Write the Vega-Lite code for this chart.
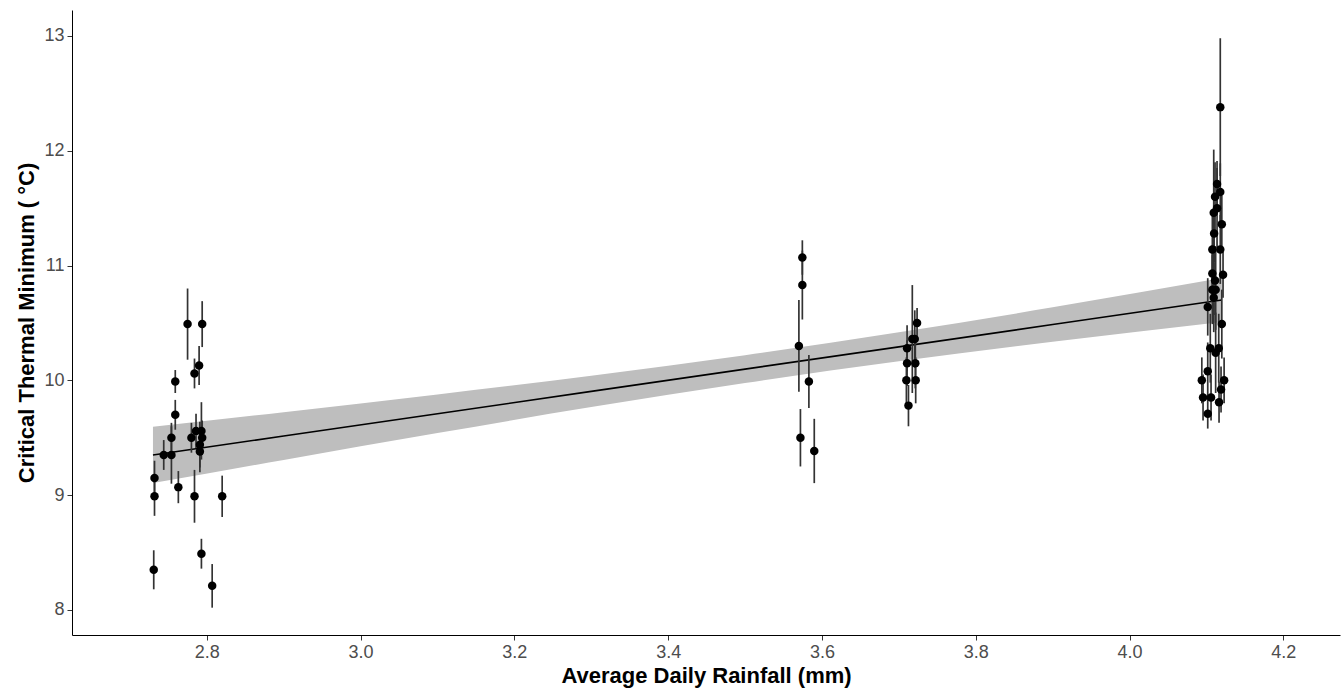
{
  "$schema": "https://vega.github.io/schema/vega-lite/v6.json",
  "width": 1268,
  "height": 625,
  "autosize": {"type": "none"},
  "padding": {"left": 72, "top": 10, "right": 3, "bottom": 55},
  "background": "white",
  "datasets": {
    "points": [
      {"rain": 2.731, "ctmin": 8.35, "lo": 8.18, "hi": 8.52},
      {"rain": 2.732, "ctmin": 8.99, "lo": 8.82, "hi": 9.16},
      {"rain": 2.732, "ctmin": 9.15, "lo": 9.0, "hi": 9.3},
      {"rain": 2.744, "ctmin": 9.35, "lo": 9.22, "hi": 9.48},
      {"rain": 2.754, "ctmin": 9.35, "lo": 9.1, "hi": 9.6},
      {"rain": 2.754, "ctmin": 9.5, "lo": 9.37, "hi": 9.63},
      {"rain": 2.759, "ctmin": 9.7, "lo": 9.57, "hi": 9.83},
      {"rain": 2.759, "ctmin": 9.99, "lo": 9.89, "hi": 10.09},
      {"rain": 2.763, "ctmin": 9.07, "lo": 8.93, "hi": 9.21},
      {"rain": 2.775, "ctmin": 10.49, "lo": 10.18, "hi": 10.8},
      {"rain": 2.78, "ctmin": 9.5, "lo": 9.37, "hi": 9.63},
      {"rain": 2.784, "ctmin": 10.06, "lo": 9.93, "hi": 10.19},
      {"rain": 2.784, "ctmin": 8.99, "lo": 8.76, "hi": 9.22},
      {"rain": 2.786, "ctmin": 9.56, "lo": 9.41, "hi": 9.71},
      {"rain": 2.79, "ctmin": 10.13, "lo": 9.96, "hi": 10.3},
      {"rain": 2.793, "ctmin": 9.56, "lo": 9.31, "hi": 9.81},
      {"rain": 2.794, "ctmin": 10.49, "lo": 10.29, "hi": 10.69},
      {"rain": 2.794, "ctmin": 9.5, "lo": 9.35, "hi": 9.65},
      {"rain": 2.791, "ctmin": 9.44, "lo": 9.24, "hi": 9.64},
      {"rain": 2.791, "ctmin": 9.38, "lo": 9.2, "hi": 9.56},
      {"rain": 2.793, "ctmin": 8.49, "lo": 8.36, "hi": 8.62},
      {"rain": 2.807, "ctmin": 8.21, "lo": 8.02, "hi": 8.4},
      {"rain": 2.82, "ctmin": 8.99, "lo": 8.81, "hi": 9.17},
      {"rain": 3.5745, "ctmin": 11.07, "lo": 10.92, "hi": 11.22},
      {"rain": 3.5745, "ctmin": 10.83, "lo": 10.53, "hi": 11.13},
      {"rain": 3.57, "ctmin": 10.3, "lo": 9.9, "hi": 10.7},
      {"rain": 3.583, "ctmin": 9.99, "lo": 9.76, "hi": 10.22},
      {"rain": 3.572, "ctmin": 9.5, "lo": 9.25, "hi": 9.75},
      {"rain": 3.59, "ctmin": 9.385, "lo": 9.105, "hi": 9.665},
      {"rain": 3.7237, "ctmin": 10.5, "lo": 10.37, "hi": 10.63},
      {"rain": 3.7175, "ctmin": 10.36, "lo": 9.89, "hi": 10.83},
      {"rain": 3.7207, "ctmin": 10.36, "lo": 10.11, "hi": 10.61},
      {"rain": 3.7107, "ctmin": 10.28, "lo": 10.08, "hi": 10.48},
      {"rain": 3.7107, "ctmin": 10.15, "lo": 9.95, "hi": 10.35},
      {"rain": 3.7214, "ctmin": 10.15, "lo": 9.93, "hi": 10.37},
      {"rain": 3.7098, "ctmin": 10.0, "lo": 9.8, "hi": 10.2},
      {"rain": 3.7219, "ctmin": 10.0, "lo": 9.8, "hi": 10.2},
      {"rain": 3.7125, "ctmin": 9.78, "lo": 9.6, "hi": 9.96},
      {"rain": 4.118, "ctmin": 12.38, "lo": 11.78, "hi": 12.98},
      {"rain": 4.1138, "ctmin": 11.71, "lo": 11.51, "hi": 11.91},
      {"rain": 4.118, "ctmin": 11.64, "lo": 11.39, "hi": 11.89},
      {"rain": 4.1112, "ctmin": 11.6, "lo": 11.3, "hi": 11.9},
      {"rain": 4.1138, "ctmin": 11.5, "lo": 11.15, "hi": 11.85},
      {"rain": 4.1095, "ctmin": 11.46, "lo": 10.91, "hi": 12.01},
      {"rain": 4.12, "ctmin": 11.36, "lo": 11.11, "hi": 11.61},
      {"rain": 4.11, "ctmin": 11.28, "lo": 11.03, "hi": 11.53},
      {"rain": 4.1077, "ctmin": 11.14, "lo": 10.84, "hi": 11.44},
      {"rain": 4.118, "ctmin": 11.14, "lo": 10.84, "hi": 11.44},
      {"rain": 4.1077, "ctmin": 10.93, "lo": 10.68, "hi": 11.18},
      {"rain": 4.1216, "ctmin": 10.92, "lo": 10.72, "hi": 11.12},
      {"rain": 4.1112, "ctmin": 10.87, "lo": 10.57, "hi": 11.17},
      {"rain": 4.1077, "ctmin": 10.79, "lo": 10.49, "hi": 11.09},
      {"rain": 4.112, "ctmin": 10.79, "lo": 10.44, "hi": 11.14},
      {"rain": 4.1095, "ctmin": 10.72, "lo": 10.42, "hi": 11.02},
      {"rain": 4.1017, "ctmin": 10.64, "lo": 10.39, "hi": 10.89},
      {"rain": 4.12, "ctmin": 10.49, "lo": 10.19, "hi": 10.79},
      {"rain": 4.105, "ctmin": 10.28, "lo": 9.98, "hi": 10.58},
      {"rain": 4.116, "ctmin": 10.28, "lo": 9.98, "hi": 10.58},
      {"rain": 4.112, "ctmin": 10.24, "lo": 9.89, "hi": 10.59},
      {"rain": 4.1017, "ctmin": 10.08, "lo": 9.83, "hi": 10.33},
      {"rain": 4.094, "ctmin": 10.0, "lo": 9.8, "hi": 10.2},
      {"rain": 4.123, "ctmin": 10.0, "lo": 9.8, "hi": 10.2},
      {"rain": 4.119, "ctmin": 9.92, "lo": 9.72, "hi": 10.12},
      {"rain": 4.0956, "ctmin": 9.85, "lo": 9.65, "hi": 10.05},
      {"rain": 4.106, "ctmin": 9.85, "lo": 9.65, "hi": 10.05},
      {"rain": 4.1164, "ctmin": 9.81, "lo": 9.63, "hi": 9.99},
      {"rain": 4.1017, "ctmin": 9.71, "lo": 9.58, "hi": 9.84}
    ],
    "band": [
      {"rain": 2.73, "fit": 9.35, "lo": 9.105, "hi": 9.595},
      {"rain": 2.9, "fit": 9.515, "lo": 9.307, "hi": 9.723},
      {"rain": 3.1, "fit": 9.709, "lo": 9.541, "hi": 9.877},
      {"rain": 3.3, "fit": 9.904, "lo": 9.767, "hi": 10.04},
      {"rain": 3.5, "fit": 10.098, "lo": 9.977, "hi": 10.219},
      {"rain": 3.7, "fit": 10.292, "lo": 10.166, "hi": 10.418},
      {"rain": 3.9, "fit": 10.486, "lo": 10.336, "hi": 10.636},
      {"rain": 4.12, "fit": 10.7, "lo": 10.509, "hi": 10.891}
    ]
  },
  "layer": [
    {
      "data": {"name": "band"},
      "mark": {"type": "area", "color": "#BEBEBE", "opacity": 1, "interpolate": "monotone"},
      "encoding": {
        "x": {"field": "rain", "type": "quantitative"},
        "y": {"field": "lo", "type": "quantitative"},
        "y2": {"field": "hi"}
      }
    },
    {
      "data": {"name": "band"},
      "mark": {"type": "line", "color": "#000000", "strokeWidth": 1.6},
      "encoding": {
        "x": {"field": "rain", "type": "quantitative"},
        "y": {"field": "fit", "type": "quantitative"}
      }
    },
    {
      "data": {"name": "points"},
      "mark": {"type": "rule", "color": "#333333", "strokeWidth": 1.7},
      "encoding": {
        "x": {"field": "rain", "type": "quantitative"},
        "y": {"field": "lo", "type": "quantitative"},
        "y2": {"field": "hi"}
      }
    },
    {
      "data": {"name": "points"},
      "mark": {"type": "circle", "color": "#000000", "opacity": 1, "size": 72},
      "encoding": {
        "x": {
          "field": "rain", "type": "quantitative",
          "scale": {"domain": [2.6247, 4.2737], "nice": false, "zero": false},
          "axis": {"title": "Average Daily Rainfall (mm)", "values": [2.8, 3.0, 3.2, 3.4, 3.6, 3.8, 4.0, 4.2], "format": ".1f", "titlePadding": 4}
        },
        "y": {
          "field": "ctmin", "type": "quantitative",
          "scale": {"domain": [7.782, 13.226], "nice": false, "zero": false},
          "axis": {"title": "Critical Thermal Minimum ( °C)", "values": [8, 9, 10, 11, 12, 13], "format": "d", "titlePadding": 5}
        }
      }
    }
  ],
  "config": {
    "view": {"stroke": null},
    "font": "Liberation Sans",
    "axis": {
      "grid": false,
      "domainColor": "#000000",
      "domainWidth": 1,
      "tickColor": "#333333",
      "tickSize": 5,
      "tickWidth": 1,
      "labelColor": "#4D4D4D",
      "labelFont": "Liberation Sans",
      "labelFontSize": 18,
      "labelPadding": 3,
      "titleFont": "Liberation Sans",
      "titleFontSize": 22,
      "titleFontWeight": "bold",
      "titleColor": "#000000"
    }
  }
}
